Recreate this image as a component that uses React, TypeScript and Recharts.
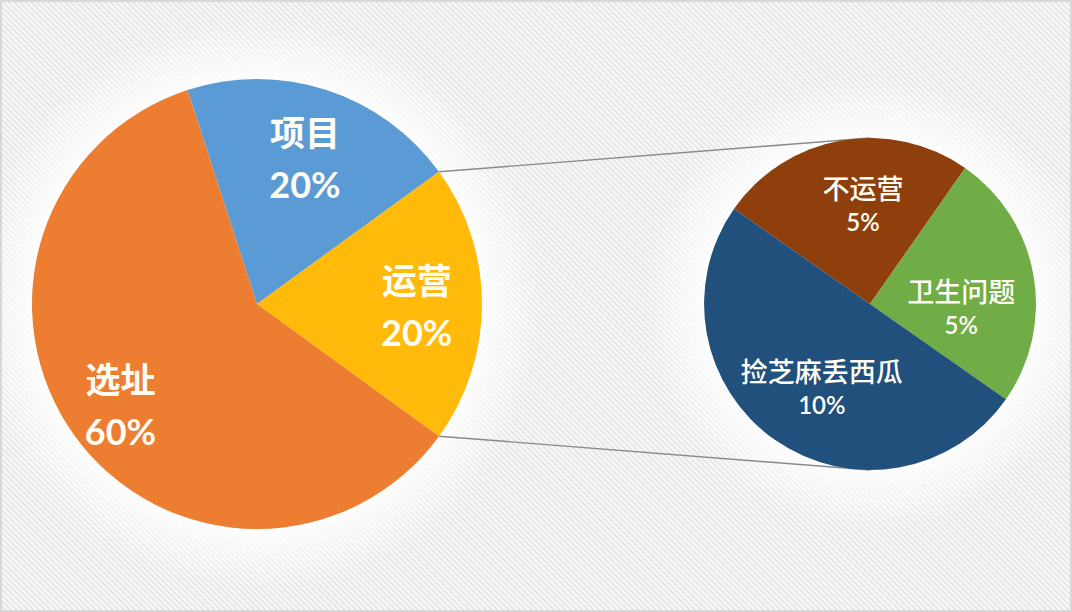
import { Cell, Pie, PieChart } from "recharts";

const W = 1072;
const H = 612;

// main breakdown
const MAIN_NAMES = ["项目", "运营", "选址"];
const MAIN_VALUES = [20, 20, 60];
const MAIN_COLORS = ["#5B9BD5", "#FFBA0A", "#ED7D31"];

// breakdown of the 运营 slice
const SUB_NAMES = ["不运营", "卫生问题", "捡芝麻丢西瓜"];
const SUB_VALUES = [5, 5, 10];
const SUB_COLORS = ["#8E3F0C", "#70AD47", "#22507C"];

const MAIN = { cx: 257, cy: 304, r: 225, start: 108 };
const SUB = { cx: 870, cy: 304, r: 166, start: 145 };

// label placement per slice: radius factor and angle shift (deg)
const MAIN_LABEL_POS = [
  { f: 0.69, da: 0 },
  { f: 0.71, da: 0 },
  { f: 0.75, da: 0 },
];
const SUB_LABEL_POS = [
  { f: 0.6, da: -6 },
  { f: 0.55, da: -12 },
  { f: 0.58, da: 5 },
];

const mainData = MAIN_NAMES.map((name, i) => ({ name, value: MAIN_VALUES[i] }));
const subData = SUB_NAMES.map((name, i) => ({ name, value: SUB_VALUES[i] }));

const RAD = Math.PI / 180;

// angle of the edges of the 运营 slice, so the connector lines sit on them
const mainTotal = MAIN_VALUES.reduce((a, b) => a + b, 0);
const edgeA = MAIN.start - (360 * MAIN_VALUES[0]) / mainTotal;
const edgeB = edgeA - (360 * MAIN_VALUES[1]) / mainTotal;
const polar = (c: { cx: number; cy: number; r: number }, deg: number) => ({
  x: c.cx + c.r * Math.cos(deg * RAD),
  y: c.cy - c.r * Math.sin(deg * RAD),
});
const p1 = polar(MAIN, edgeA);
const p2 = polar(MAIN, edgeB);

function makeLabel(big: boolean, pos: { f: number; da: number }[]) {
  return (props: any) => {
    const { cx, cy, midAngle, outerRadius, name, value, index } = props;
    const { f, da } = pos[index] ?? { f: 0.6, da: 0 };
    const rr = outerRadius * f;
    const a = midAngle + da;
    const x = cx + rr * Math.cos(-a * RAD);
    const y = cy + rr * Math.sin(-a * RAD);
    const gap = big ? 26 : 17;
    return (
      <g>
        <text
          x={x}
          y={y - gap}
          textAnchor="middle"
          dominantBaseline="central"
          fill="#FFFDF4"
          fontSize={big ? 35 : 27}
          fontWeight={big ? 700 : 500}
          fontFamily="'Noto Sans CJK SC', sans-serif"
        >
          {name}
        </text>
        <text
          x={x}
          y={y + gap + (big ? 2 : 0)}
          textAnchor="middle"
          dominantBaseline="central"
          fill="#FFFDF4"
          fontSize={big ? 36 : 24}
          fontWeight={big ? 700 : 600}
          fontFamily="Lato, 'Open Sans', sans-serif"
        >
          {`${value}%`}
        </text>
      </g>
    );
  };
}

function Backdrop() {
  const halo = (id: string, c: { cx: number; cy: number; r: number }) => (
    <radialGradient id={id} gradientUnits="userSpaceOnUse" cx={c.cx} cy={c.cy} r={c.r + 60}>
      <stop offset={c.r / (c.r + 60)} stopColor="#ffffff" stopOpacity={0.9} />
      <stop offset={1} stopColor="#ffffff" stopOpacity={0} />
    </radialGradient>
  );
  return (
    <svg width={W} height={H} style={{ position: "absolute", left: 0, top: 0 }}>
      <defs>
        <pattern
          id="hatch"
          width={4}
          height={4}
          patternUnits="userSpaceOnUse"
          patternTransform="rotate(-45)"
        >
          <rect width={4} height={4} fill="#f6f6f6" />
          <line x1={0} y1={0} x2={0} y2={4} stroke="#d6d6d6" strokeWidth={1.6} />
        </pattern>
        {halo("haloMain", MAIN)}
        {halo("haloSub", SUB)}
      </defs>
      <rect width={W} height={H} fill="url(#hatch)" />
      <circle cx={MAIN.cx} cy={MAIN.cy} r={MAIN.r + 60} fill="url(#haloMain)" />
      <circle cx={SUB.cx} cy={SUB.cy} r={SUB.r + 60} fill="url(#haloSub)" />
      <rect x={1} y={1} width={W - 2} height={H - 2} fill="none" stroke="#d8d8d8" strokeWidth={2} />
      <line x1={p1.x} y1={p1.y} x2={SUB.cx} y2={SUB.cy - SUB.r} stroke="#8a8a8a" strokeWidth={1.4} />
      <line x1={p2.x} y1={p2.y} x2={SUB.cx} y2={SUB.cy + SUB.r} stroke="#8a8a8a" strokeWidth={1.4} />
    </svg>
  );
}

export default function App() {
  return (
    <div style={{ position: "absolute", left: 0, top: 0, width: W, height: H }}>
      <Backdrop />
      <div style={{ position: "absolute", left: 0, top: 0 }}>
        <PieChart width={W} height={H} margin={{ top: 0, right: 0, bottom: 0, left: 0 }}>
          <Pie
            data={mainData}
            dataKey="value"
            nameKey="name"
            cx={MAIN.cx}
            cy={MAIN.cy}
            outerRadius={MAIN.r}
            startAngle={MAIN.start}
            endAngle={MAIN.start - 360}
            stroke="none"
            labelLine={false}
            label={makeLabel(true, MAIN_LABEL_POS)}
            isAnimationActive={false}
          >
            {mainData.map((d, i) => (
              <Cell key={d.name} fill={MAIN_COLORS[i]} />
            ))}
          </Pie>
          <Pie
            data={subData}
            dataKey="value"
            nameKey="name"
            cx={SUB.cx}
            cy={SUB.cy}
            outerRadius={SUB.r}
            startAngle={SUB.start}
            endAngle={SUB.start - 360}
            stroke="none"
            labelLine={false}
            label={makeLabel(false, SUB_LABEL_POS)}
            isAnimationActive={false}
          >
            {subData.map((d, i) => (
              <Cell key={d.name} fill={SUB_COLORS[i]} />
            ))}
          </Pie>
        </PieChart>
      </div>
    </div>
  );
}
